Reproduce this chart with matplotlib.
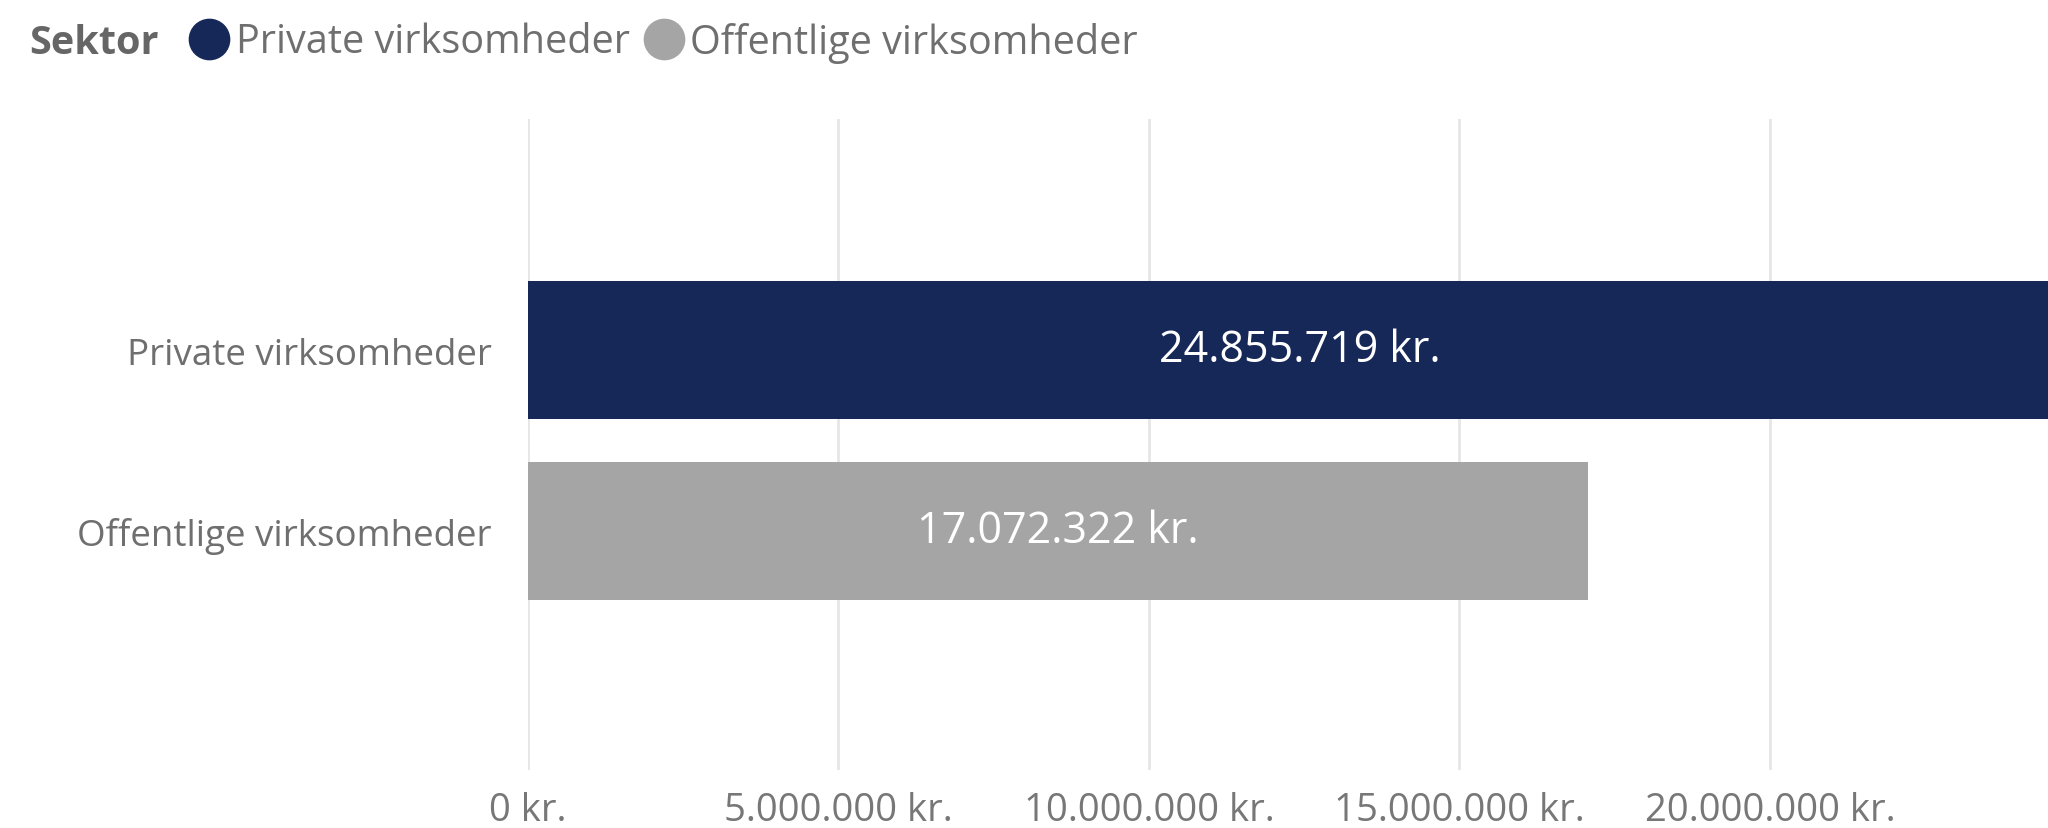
import matplotlib
matplotlib.use("Agg")
import matplotlib.pyplot as plt
from matplotlib.lines import Line2D

plt.rcParams['font.family'] = ['Open Sans', 'DejaVu Sans']

categories = ["Private virksomheder", "Offentlige virksomheder"]
values = [24855719, 17072322]
colors = ["#162858", "#a5a5a5"]
xticks = [0, 5000000, 10000000, 15000000, 20000000]
legend_title = "Sektor"


def fmt_kr(v):
    return f"{int(round(v)):,}".replace(",", ".") + " kr."


W, H = 2048, 829
fig = plt.figure(figsize=(W / 100, H / 100), dpi=100)
ax = fig.add_axes([528 / W, 1 - 771 / H, 1 - 528 / W, (771 - 120) / H])

ypos = list(range(len(categories)))
ax.barh(ypos, values, height=0.762, color=colors, zorder=2)
for y, v in zip(ypos, values):
    ax.text(v / 2, y, fmt_kr(v), ha="center", va="center", color="white",
            fontsize=31, zorder=3, clip_on=False)

ax.set_xlim(0, 24.48e6)
ax.set_ylim(2.32, -1.276)
ax.set_xticks(xticks)
ax.set_xticklabels([fmt_kr(t) for t in xticks])
ax.set_yticks(ypos)
ax.set_yticklabels(categories)
ax.tick_params(axis="x", length=0, pad=15, labelsize=27.5, labelcolor="#777777")
ax.tick_params(axis="y", length=0, pad=26, labelsize=26.5, labelcolor="#6f6f6f")
ax.grid(axis="x", color="#e6e6e6", linewidth=2, zorder=0)
ax.grid(axis="y", visible=False)
for s in ax.spines.values():
    s.set_visible(False)

# legend
ly = 1 - 43 / H
cy = 1 - 40 / H
fig.text(29 / W, ly, legend_title, fontsize=28.5, fontweight="bold", color="#666666",
         ha="left", va="center")
fig.add_artist(Line2D([209 / W], [cy], marker="o", markersize=29, color=colors[0],
                      transform=fig.transFigure, linestyle="none"))
fig.text(236 / W, ly, categories[0], fontsize=28.5, color="#6f6f6f", ha="left", va="center")
fig.add_artist(Line2D([664 / W], [cy], marker="o", markersize=29, color=colors[1],
                      transform=fig.transFigure, linestyle="none"))
fig.text(690 / W, ly, categories[1], fontsize=28.5, color="#6f6f6f", ha="left", va="center")

fig.savefig("out.png", dpi=100)
